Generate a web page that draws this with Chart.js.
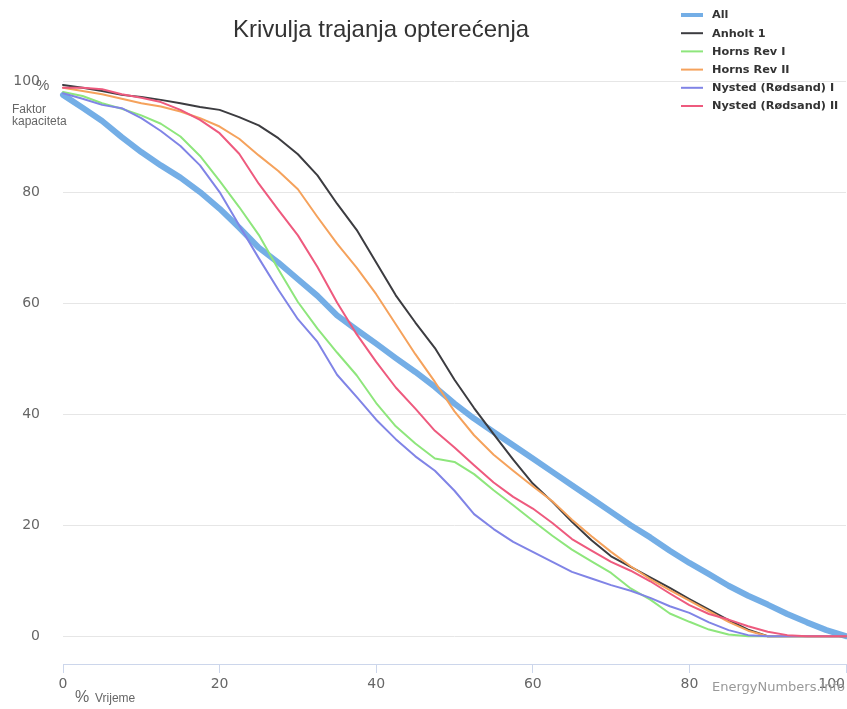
<!DOCTYPE html>
<html>
<head>
<meta charset="utf-8">
<title>Krivulja trajanja opterećenja</title>
<script src="https://cdn.jsdelivr.net/npm/chart.js@4.4.1/dist/chart.umd.min.js"></script>
<style>
  html, body { margin: 0; padding: 0; background: #fff; }
  #chartLoad { display: block; }
</style>
</head>
<body>
<canvas id="chartLoad" width="847" height="709"></canvas>
<script>
// % of time (x axis)
const timeShare = [0, 2.5, 5, 7.5, 10, 12.5, 15, 17.5, 20, 22.5, 25, 27.5, 30, 32.5, 35, 37.5, 40,
  42.5, 45, 47.5, 50, 52.5, 55, 57.5, 60, 62.5, 65, 67.5, 70, 72.5, 75, 77.5, 80, 82.5, 85, 87.5,
  90, 92.5, 95, 97.5, 100];

// capacity factor %, one list per series
const allFarms = [97.5, 95.2, 92.8, 89.9, 87.2, 84.8, 82.6, 80, 77, 73.6, 70, 67.3, 64.3, 61.3, 57.8,
  55.2, 52.7, 50.1, 47.6, 44.9, 41.9, 39.2, 36.8, 34.4, 32, 29.6, 27.2, 24.8, 22.4, 20, 17.8, 15.4,
  13.2, 11.2, 9.1, 7.3, 5.7, 4, 2.5, 1.1, 0];
const anholt1 = [99.3, 98.8, 98.2, 97.5, 97.1, 96.6, 96, 95.3, 94.8, 93.5, 92, 89.7, 86.8, 83, 77.9,
  73.2, 67.3, 61.4, 56.5, 51.9, 46.2, 41.1, 36.4, 31.8, 27.5, 24.2, 20.6, 17.3, 14.4, 12.5, 10.6, 8.7,
  6.7, 4.8, 2.9, 1.2, 0, 0, 0, 0, 0];
const hornsRev1 = [98, 97.3, 96, 95, 93.8, 92.3, 90, 86.5, 82, 77.3, 72.3, 66.1, 60.2, 55.4, 51.1,
  47, 42, 37.8, 34.7, 32, 31.4, 29.2, 26.3, 23.6, 20.8, 18.1, 15.6, 13.5, 11.4, 8.6, 6.6, 4.1, 2.6,
  1.2, 0.3, 0, 0, 0, 0, 0, 0];
const hornsRev2 = [98.8, 98.2, 97.6, 96.8, 96, 95.4, 94.5, 93.3, 91.8, 89.6, 86.6, 83.8, 80.5, 75.5,
  70.7, 66.4, 61.6, 56.2, 50.8, 45.8, 40.5, 36.2, 32.7, 29.8, 27, 24.3, 21, 18, 15.2, 12.6, 10.3, 8.3,
  6.4, 4.5, 2.6, 1, 0, 0, 0, 0, 0];
const nysted1 = [97.8, 96.8, 95.7, 95.1, 93.3, 91, 88.3, 84.8, 80, 74, 68.1, 62.4, 57.1, 53, 47.1,
  43.1, 39, 35.5, 32.4, 29.8, 26.2, 22, 19.3, 17, 15.2, 13.4, 11.6, 10.4, 9.2, 8.2, 6.9, 5.4, 4.2, 2.5,
  1.1, 0.2, 0, 0, 0, 0, 0];
const nysted2 = [98.8, 98.8, 98.5, 97.6, 97, 96.2, 94.8, 93, 90.6, 86.9, 81.5, 76.8, 72.2, 66.5, 60.1,
  54.4, 49.4, 44.8, 41, 37, 34, 30.8, 27.7, 25.1, 23, 20.4, 17.5, 15.4, 13.4, 11.8, 9.9, 7.7, 5.6, 4,
  3, 1.8, 0.8, 0.2, 0, 0, 0];

const seriesNames = ['All', 'Anholt 1', 'Horns Rev I', 'Horns Rev II', 'Nysted (Rødsand) I', 'Nysted (Rødsand) II'];
const seriesValues = [allFarms, anholt1, hornsRev1, hornsRev2, nysted1, nysted2];
const xTicks = [0, 20, 40, 60, 80, 100];
const yTicks = [0, 20, 40, 60, 80, 100];
const chartTitle = 'Krivulja trajanja opterećenja';

// looks
const colors = ['#74aee6', '#3c3c40', '#8ee67c', '#f5a25c', '#8084e6', '#ee5a7e'];
const widths = [6, 2, 2, 2, 2, 2];
const FONT = '"DejaVu Sans", Verdana, sans-serif';
const FONT2 = '"Liberation Sans", Arial, sans-serif';

const datasets = seriesNames.map((name, i) => ({
  label: name,
  data: timeShare.map((t, j) => ({x: t, y: seriesValues[i][j]})),
  borderColor: colors[i],
  backgroundColor: colors[i],
  borderWidth: widths[i],
  pointRadius: 0,
  tension: 0,
  borderJoinStyle: 'round',
  borderCapStyle: 'round',
  order: i == 0 ? 10 : 6 - i,
  clip: 4
}));

// title, legend, axis texts, credits
const decorations = {
  id: 'decorations',
  afterDraw(chart) {
    const ctx = chart.ctx, xs = chart.scales.x;
    ctx.save();

    ctx.fillStyle = '#333';
    ctx.font = '24px ' + FONT2;
    ctx.textAlign = 'center';
    ctx.textBaseline = 'alphabetic';
    ctx.fillText(chartTitle, 381, 37);

    // legend
    ctx.textAlign = 'left';
    ctx.textBaseline = 'middle';
    ctx.font = 'bold 11.3px ' + FONT;
    seriesNames.forEach((name, i) => {
      let y = 15 + i * 18.2;
      ctx.strokeStyle = colors[i];
      ctx.lineWidth = i == 0 ? 4 : 2;
      ctx.beginPath();
      ctx.moveTo(681, y);
      ctx.lineTo(703, y);
      ctx.stroke();
      ctx.fillStyle = '#333';
      ctx.fillText(name, 712, y + 0.5);
    });

    // y axis extras
    ctx.textBaseline = 'alphabetic';
    ctx.fillStyle = '#666';
    ctx.font = '15px ' + FONT2;
    ctx.fillText('%', 36, 90);
    ctx.font = '12px ' + FONT2;
    ctx.fillText('Faktor', 12, 113);
    ctx.fillText('kapaciteta', 12, 125);

    // x tick labels
    ctx.font = '14px ' + FONT;
    ctx.fillStyle = '#666';
    ctx.textBaseline = 'middle';
    xTicks.forEach(v => {
      let px = xs.getPixelForValue(v);
      let label = String(v);
      let w = ctx.measureText(label).width;
      ctx.textAlign = 'left';
      let left = Math.min(px - w / 2, 845 - w);
      ctx.fillText(label, left, 684);
    });

    ctx.textBaseline = 'alphabetic';
    ctx.textAlign = 'left';
    ctx.font = '16px ' + FONT2;
    ctx.fillText('%', 75, 702);
    ctx.font = '12px ' + FONT2;
    ctx.fillText('Vrijeme', 95, 702);

    ctx.fillStyle = '#999';
    ctx.font = '13px ' + FONT;
    ctx.textAlign = 'right';
    ctx.fillText('EnergyNumbers.info', 845, 691);

    ctx.restore();
  }
};

const config = {
  type: 'line',
  data: {datasets: datasets},
  options: {
    responsive: false,
    animation: false,
    layout: {padding: {top: 81, right: 1, bottom: 0, left: 0}},
    plugins: {
      legend: {display: false},
      title: {display: false},
      tooltip: {enabled: false}
    },
    scales: {
      x: {
        type: 'linear',
        min: 0,
        max: 100,
        ticks: {display: false, stepSize: 20},
        afterBuildTicks: s => { s.ticks = xTicks.map(v => ({value: v})); },
        afterFit: s => { s.height = 45; s.paddingLeft = 0; s.paddingRight = 0; },
        grid: {drawOnChartArea: false, drawTicks: true, tickLength: 9, color: '#ccd6eb'},
        border: {display: true, color: '#ccd6eb', width: 1}
      },
      y: {
        type: 'linear',
        min: -5,
        max: 100,
        afterBuildTicks: s => { s.ticks = yTicks.map(v => ({value: v})); },
        afterFit: s => { s.width = 63; s.paddingTop = 0; s.paddingBottom = 0; },
        ticks: {padding: 23, color: '#666', font: {family: FONT, size: 14}},
        grid: {drawTicks: false, color: '#e6e6e6'},
        border: {display: false}
      }
    }
  },
  plugins: [decorations]
};

var chartLoad = new Chart(document.getElementById('chartLoad'), config);
</script>
</body>
</html>
